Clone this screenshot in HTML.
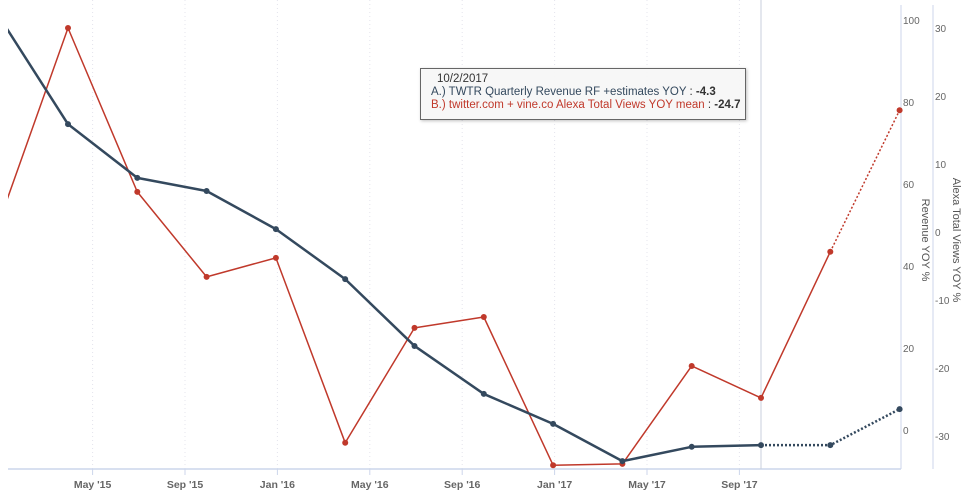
<!DOCTYPE html>
<html><head><meta charset="utf-8"><style>
body{margin:0;background:#fff;font-family:"Liberation Sans",sans-serif}
svg{display:block}
text{font-family:"Liberation Sans",sans-serif}
</style></head><body>
<svg id="c" width="973" height="500"><defs><clipPath id="plot"><rect x="8" y="0" width="897" height="475"/></clipPath></defs></svg>
<div style="position:absolute;left:420px;top:68px;width:326px;height:52px;border:1px solid #666;background:rgba(247,247,247,0.95);box-shadow:1px 1px 3px rgba(0,0,0,0.25);font-size:11.5px;line-height:13px;box-sizing:border-box;padding:4px 0 0 10px">
<div style="color:#333;padding-left:6px">10/2/2017</div>
<div style="color:#34495e">A.) TWTR Quarterly Revenue RF +estimates YOY <span style="color:#333">: <b>-4.3</b></span></div>
<div style="color:#c0392b">B.) twitter.com + vine.co Alexa Total Views YOY mean <span style="color:#333">: <b>-24.7</b></span></div>
</div>
<script>
const tickLabels=["May '15","Sep '15","Jan '16","May '16","Sep '16","Jan '17","May '17","Sep '17"];
const tickMonths=[4,8,12,16,20,24,28,32];
const revenue=[101,74.6,61.5,58.3,49.0,36.8,20.5,8.8,1.5,-7.6,-4.1,-3.7,-3.7,5.1];
const alexa=[1.3,30,5.9,-6.6,-3.8,-31.0,-14.1,-12.5,-34.3,-34.1,-19.7,-24.4,-2.9,17.9];
const revTicks=[0,20,40,60,80,100];
const alexaTicks=[-30,-20,-10,0,10,20,30];
const NS="http://www.w3.org/2000/svg";
const svg=document.getElementById('c');
const xq=i=>-1.3+69.3*i;
const xm=m=>0.2+23.1*m;
const yRev=v=>430-4.1*v;
const yAl=v=>232-6.8*v;
function el(t,a,p){const e=document.createElementNS(NS,t);for(const k in a)e.setAttribute(k,a[k]);(p||svg).appendChild(e);return e;}
tickMonths.forEach((m,i)=>{
  const g=el('line',{x1:xm(m),x2:xm(m),y1:0,y2:469,stroke:'#e4e4ec','stroke-dasharray':'1,3'});
  
  
  const tk=el('line',{x1:xm(m),x2:xm(m),y1:469,y2:475,stroke:'#ccd6eb'});
  
  
  const t=el('text',{x:xm(m),y:488,'text-anchor':'middle','font-size':'10.5',fill:'#666','font-weight':'bold'});
  t.textContent=tickLabels[i];
  
  
});
let a=el('line',{x1:8,x2:901,y1:469,y2:469,stroke:'#ccd6eb','stroke-width':1.5});

a=el('line',{x1:901,x2:901,y1:5,y2:469,stroke:'#ccd6eb'});

a=el('line',{x1:933,x2:933,y1:5,y2:469,stroke:'#ccd6eb'});

a=el('line',{x1:761,x2:761,y1:0,y2:469,stroke:'#c8cfdd'});

revTicks.forEach(v=>{const t=el('text',{x:903,y:yRev(v)+4,'font-size':'10',fill:'#666'});t.textContent=v;
});
alexaTicks.forEach(v=>{const t=el('text',{x:935,y:yAl(v)+4,'font-size':'10',fill:'#666'});t.textContent=v;
});
let t=el('text',{transform:'translate(922,240) rotate(90)','text-anchor':'middle','font-size':'11',fill:'#555'});t.textContent='Revenue YOY %';

t=el('text',{transform:'translate(953,240) rotate(90)','text-anchor':'middle','font-size':'11',fill:'#555'});t.textContent='Alexa Total Views YOY %';

const plot=el('g',{'clip-path':'url(#plot)'});


function series(vals,yf,color,w,solidEnd,name){
  const pts=vals.map((v,i)=>[xq(i),yf(v)]);
  const s=el('polyline',{points:pts.slice(0,solidEnd+1).map(p=>p.join(',')).join(' '),fill:'none',stroke:color,'stroke-width':w,'stroke-linejoin':'round'},plot);
  
  const d=el('polyline',{points:pts.slice(solidEnd).map(p=>p.join(',')).join(' '),fill:'none',stroke:color,'stroke-width':w,'stroke-dasharray':'2,2'},plot);
  
  pts.forEach(p=>{const c=el('circle',{cx:p[0],cy:p[1],r:3,fill:color},plot);
  });
}
series(alexa,yAl,'#c0392b',1.5,12,'alexa');
series(revenue,yRev,'#34495e',2.5,11,'revenue');
</script>
</body></html>
